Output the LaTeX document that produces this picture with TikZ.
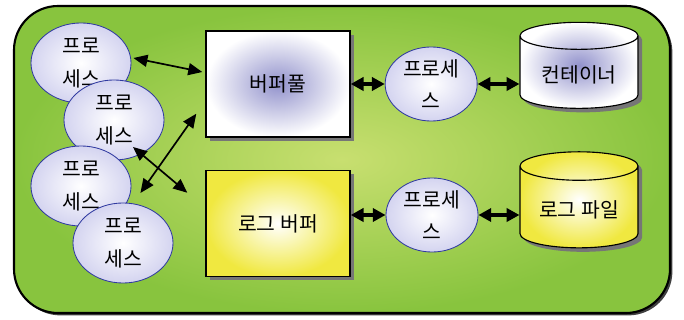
\documentclass[tikz,border=0pt]{standalone}
\usepackage{fontspec}
\newfontfamily\krfont{Noto Sans CJK KR}
\usepackage{tikz}
\usetikzlibrary{shapes.geometric, arrows.meta, positioning, shadows, calc}

\definecolor{bggreen}{RGB}{136,196,62}
\definecolor{bglight}{RGB}{200,223,112}
\definecolor{proclav}{RGB}{212,212,240}
\definecolor{procline}{RGB}{48,58,160}
\definecolor{poolmid}{RGB}{146,146,204}
\definecolor{logyellow}{RGB}{240,232,64}
\definecolor{shadowgray}{RGB}{118,118,118}

\begin{document}
\begin{tikzpicture}[
  x=0.025cm, y=0.025cm,
  frame/.style={rounded corners=1.1cm, line width=1.5pt, draw=black,
               inner color=bglight, outer color=bggreen,
               drop shadow={shadow xshift=0.06cm, shadow yshift=-0.06cm,
                            fill=black!75, opacity=1}},
  proc/.style={ellipse, draw=procline, line width=0.6pt,
               inner color=white, outer color=proclav,
               minimum width=2.5cm, minimum height=2cm, inner sep=0pt,
               align=center, font=\krfont\fontsize{14.5}{23}\selectfont},
  sproc/.style={proc, minimum width=2.3cm, minimum height=1.85cm},
  bufbox/.style={rectangle, draw=black, line width=1pt,
               minimum width=3.6cm, minimum height=2.65cm,
               font=\krfont\fontsize{14.5}{16}\selectfont,
               drop shadow={shadow xshift=0.1cm, shadow yshift=-0.1cm,
                            fill=shadowgray, opacity=1}},
  store/.style={cylinder, shape border rotate=90, aspect=0.32, draw=black,
               line width=0.8pt, minimum width=2.95cm,
               font=\krfont\fontsize{14.5}{16}\selectfont,
               drop shadow={shadow xshift=0.1cm, shadow yshift=-0.1cm,
                            fill=shadowgray, opacity=1}},
  arr/.style={{Triangle[length=0.35cm, width=0.3cm]}-{Triangle[length=0.35cm, width=0.3cm]},
               line width=1.2pt},
  fatarr/.style={{Triangle[length=0.32cm, width=0.33cm]}-{Triangle[length=0.32cm, width=0.33cm]},
               line width=2.2pt},
]
\useasboundingbox (0,0) rectangle (684,-320);
\draw[frame] (14,-6) rectangle (670,-313);

% processes on the left
\node[proc] (e1) at (81,-63)   {프로\\세스};
\node[proc] (e2) at (114,-120) {프로\\세스};
\node[proc] (e3) at (81,-186)  {프로\\세스};
\node[proc] (e4) at (123,-243) {프로\\세스};

% buffers
\node[bufbox, inner color=poolmid, outer color=white] (bufpool) at (278,-84) {버퍼풀};
\node[bufbox, inner color=white, outer color=logyellow, below=0.8cm of bufpool] (logbuf) {로그 버퍼};

% writer processes and storage
\node[sproc, right=0.85cm of bufpool] (e5) {프로세\\스};
\node[sproc] (e6) at (432,-215) {프로세\\스};
\node[store, minimum height=2.15cm, inner color=poolmid, outer color=white] (cont) at (579,-75) {컨테이너};
\node[store, minimum height=2.4cm, inner color=white, outer color=logyellow] (logfile) at (579,-210) {로그 파일};

\draw[arr] ($(e1.east)+(2,5)$) -- ($(bufpool.west)+(-3,12)$);
\draw[arr] ($(bufpool.south west)+(-9,24)$) -- ($(e3.east)+(9,-7)$);
\draw[arr] ($(e2.center)+(19,-27)$) -- ($(logbuf.north west)+(-18,-23)$);

\draw[fatarr] (bufpool) -- (e5);
\draw[fatarr] (e5) -- (e5 -| cont.west);
\draw[fatarr] (logbuf.east |- e6) -- (e6);
\draw[fatarr] (e6) -- (e6 -| logfile.west);
\end{tikzpicture}
\end{document}
